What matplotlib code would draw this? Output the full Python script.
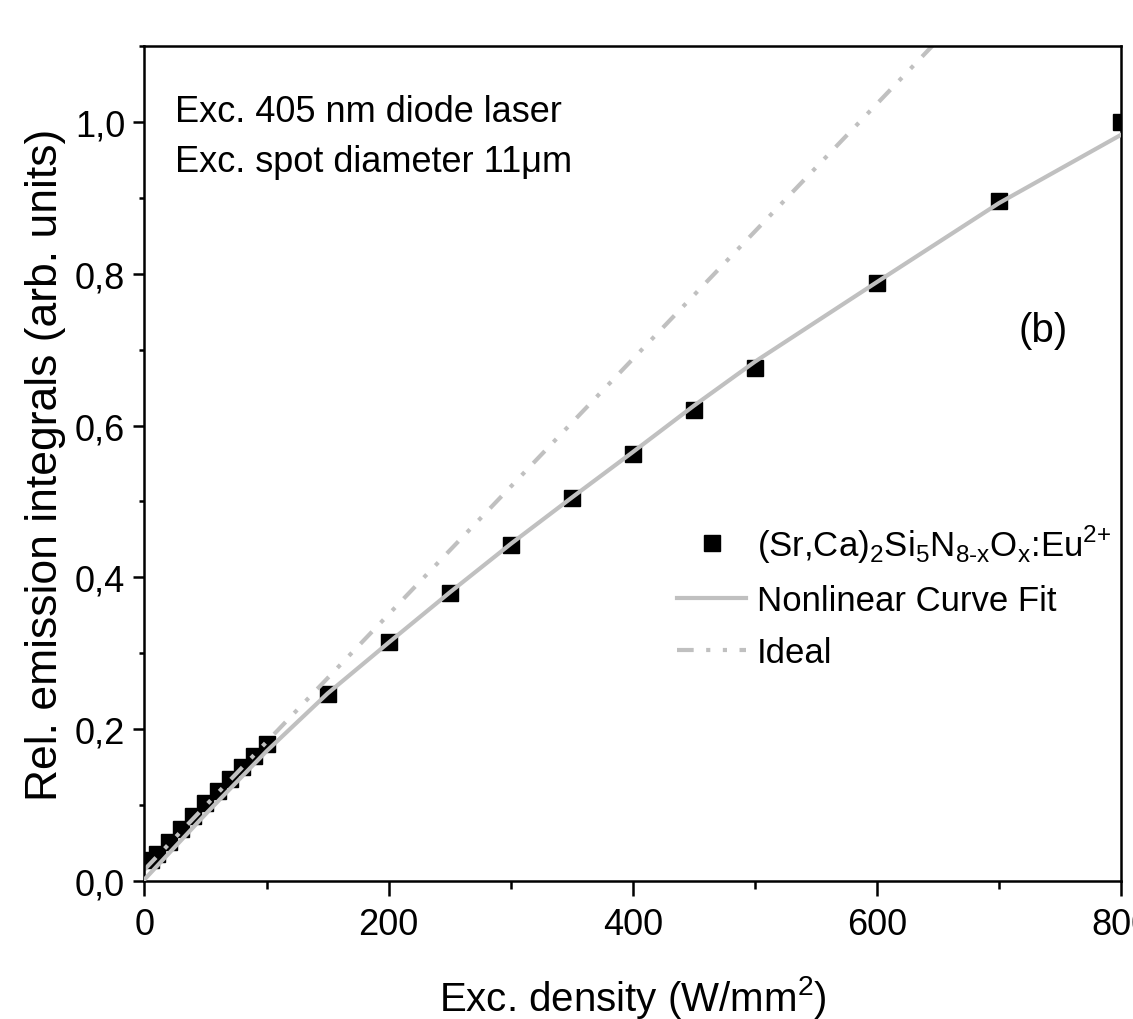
import matplotlib
matplotlib.use('Agg')
import matplotlib.pyplot as plt
from matplotlib.ticker import MultipleLocator, FuncFormatter

plt.rcParams['font.family'] = ['Liberation Sans Narrow', 'Liberation Sans', 'DejaVu Sans']
plt.rcParams['mathtext.fontset'] = 'custom'
plt.rcParams['mathtext.rm'] = 'Liberation Sans'

# measured points
dens = [5, 10, 20, 30, 40, 50, 60, 70, 80, 90, 100,
        150, 200, 250, 300, 350, 400, 450, 500, 600, 700, 800]
rel_int = [0.027, 0.036, 0.051, 0.069, 0.086, 0.103, 0.119, 0.135, 0.150, 0.165, 0.180,
           0.247, 0.315, 0.380, 0.443, 0.504, 0.562, 0.620, 0.676, 0.788, 0.896, 1.000]

# nonlinear fit curve
fit_x = [0, 50, 100, 150, 200, 250, 300, 350, 400, 450, 500, 600, 700, 800]
fit_y = [0.002, 0.088, 0.171, 0.247, 0.314, 0.380, 0.444, 0.505, 0.565, 0.626, 0.684, 0.789, 0.893, 0.983]

# ideal linear line
ideal_x = [0, 800]
ideal_y = [0.015, 1.36]

fig = plt.figure(figsize=(11.33, 10.2), dpi=100)
ax = fig.add_axes([0.1275, 0.1353, 0.8619, 0.8186])

ax.plot(ideal_x, ideal_y, color='#c0c0c0', lw=3, ls=(0, (4, 3, 1, 3, 1, 3)), label='Ideal', zorder=2)
ax.plot(fit_x, fit_y, color='#c0c0c0', lw=3, label='Nonlinear Curve Fit', zorder=3)
ax.plot(dens, rel_int, 's', color='black', ms=12, ls='none',
        label=r'(Sr,Ca)$_\mathregular{2}$Si$_\mathregular{5}$N$_{\mathregular{8}\text{-}\mathregular{x}}$'
              r'O$_\mathregular{x}$:Eu$^{\mathregular{2}\text{+}}$',
        zorder=1)

ax.set_xlim(0, 800)
ax.set_ylim(0, 1.10)
ax.xaxis.set_major_locator(MultipleLocator(200))
ax.xaxis.set_minor_locator(MultipleLocator(100))
ax.yaxis.set_major_locator(MultipleLocator(0.2))
ax.yaxis.set_minor_locator(MultipleLocator(0.1))
ax.yaxis.set_major_formatter(FuncFormatter(lambda v, p: f'{v:.1f}'.replace('.', ',')))

for s in ax.spines.values():
    s.set_linewidth(1.8)
ax.tick_params(which='both', direction='out', width=1.8, labelsize=26, top=False, right=False)
ax.tick_params(axis='x', which='major', length=11, pad=8)
ax.tick_params(axis='x', which='minor', length=5.5)
ax.tick_params(axis='y', which='major', length=8, pad=6)
ax.tick_params(axis='y', which='minor', length=3.5)

ax.set_xlabel(r'Exc. density (W/mm$^\mathregular{2}$)', fontsize=29, labelpad=22)
ax.set_ylabel('Rel. emission integrals (arb. units)', fontsize=32, labelpad=6)

ax.text(0.031, 0.922, 'Exc. 405 nm diode laser', transform=ax.transAxes, fontsize=26, va='center')
ax.text(0.031, 0.862, 'Exc. spot diameter 11\u03bcm', transform=ax.transAxes, fontsize=26, va='center')
ax.text(0.92, 0.66, '(b)', transform=ax.transAxes, fontsize=29, va='center', ha='center')

h, l = ax.get_legend_handles_labels()
ax.legend(h[::-1], l[::-1], loc='upper left', bbox_to_anchor=(0.531, 0.446), frameon=False,
          fontsize=25, handlelength=2.0, handletextpad=0.3, labelspacing=0.55, borderaxespad=0)

fig.savefig('out.png', dpi=100)
